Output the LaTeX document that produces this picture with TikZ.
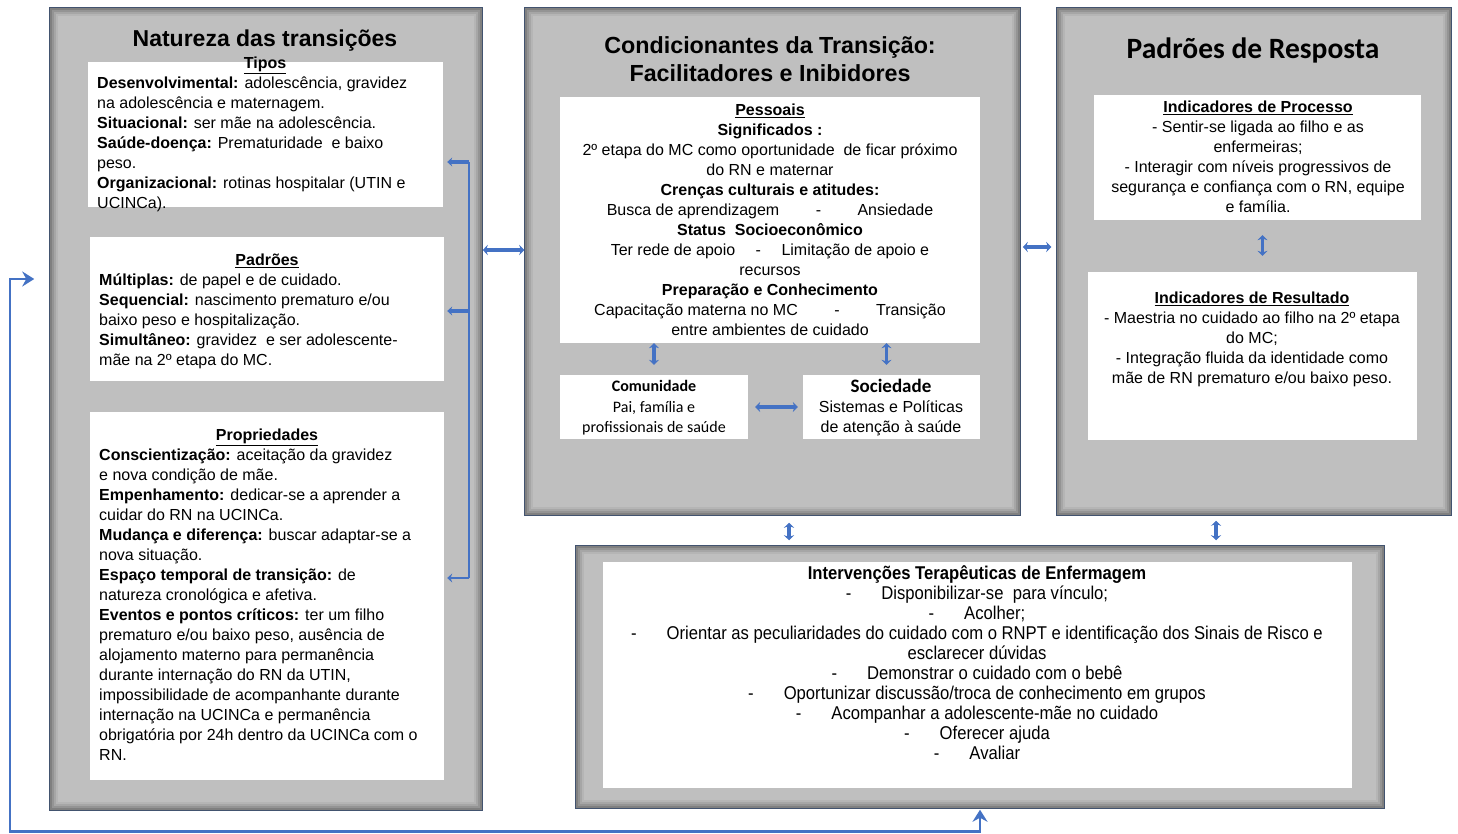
\documentclass[tikz,border=0pt]{standalone}
\usepackage{fontspec}
\setmainfont{Liberation Sans}
\newfontfamily\calib{Carlito}
\newfontfamily\narrowf[FakeStretch=0.9]{Liberation Sans}
\usetikzlibrary{arrows.meta,calc}
\definecolor{boxgray}{HTML}{BFBFBF}
\definecolor{edge}{HTML}{42536F}
\definecolor{ablue}{HTML}{4472C4}
\newcommand\innershadow[1]{%
  \draw[line width=2pt, draw=black!50] ([shift={(1.8,1.8)}]#1.north west) rectangle ([shift={(-1.8,-1.8)}]#1.south east);
  \draw[line width=2pt, draw=black!42] ([shift={(3.8,3.8)}]#1.north west) rectangle ([shift={(-3.8,-3.8)}]#1.south east);
  \draw[line width=2pt, draw=black!35] ([shift={(5.8,5.8)}]#1.north west) rectangle ([shift={(-5.8,-5.8)}]#1.south east);
  \draw[line width=2pt, draw=black!29] ([shift={(7.8,7.8)}]#1.north west) rectangle ([shift={(-7.8,-7.8)}]#1.south east);
}
\begin{document}
\begin{tikzpicture}[x=1pt,y=-1pt,
  outer/.style={draw=edge, line width=1.5pt, fill=boxgray, rectangle, inner sep=0pt},
  wbox/.style={fill=white, rectangle, inner sep=0pt},
  body/.style={font=\fontsize{16}{20}\selectfont, inner sep=0pt},
  head/.style={font=\fontsize{16}{20}\selectfont\bfseries, inner sep=0pt, anchor=base},
  dbl/.style={draw=ablue, line width=3.5pt, {Stealth[length=5pt,width=10pt]}-{Stealth[length=5pt,width=10pt]}},
  tick/.style={draw=ablue, line width=3.5pt, -{Stealth[length=5pt,width=9pt]}},
  thinblue/.style={draw=ablue, line width=1.3pt},
  fb/.style={draw=ablue, line width=2.5pt, {Stealth[length=12pt,width=15pt,inset=4pt]}-{Stealth[length=12pt,width=15pt,inset=4pt]}}
]
\useasboundingbox (0,0) rectangle (1458,834);
\fill[white] (0,0) rectangle (1458,834);

% ---------- outer boxes ----------
\node[outer, minimum width=432pt, minimum height=802pt] (L) at (266,409) {};
\innershadow{L}
\node[outer, minimum width=495pt, minimum height=507pt] (C) at (772.5,261.5) {};
\innershadow{C}
\node[outer, minimum width=394pt, minimum height=507pt] (R) at (1254,261.5) {};
\innershadow{R}
\node[outer, minimum width=808pt, minimum height=262pt] (B) at (980,677) {};
\innershadow{B}

% ---------- white boxes ----------
\node[wbox, minimum width=355pt, minimum height=145pt] (Ltip) at (265.5,134.5) {};
\node[wbox, minimum width=354pt, minimum height=144pt] (Lpad) at (267,309) {};
\node[wbox, minimum width=354pt, minimum height=368pt] (Lprop) at (267,596) {};
\node[wbox, minimum width=420pt, minimum height=246pt] (Cpes) at (770,220) {};
\node[wbox, minimum width=188pt, minimum height=64pt] (Ccom) at (654,407) {};
\node[wbox, minimum width=177pt, minimum height=64pt] (Csoc) at (891.5,407) {};
\node[wbox, minimum width=327pt, minimum height=125pt] (Rproc) at (1257.5,157.5) {};
\node[wbox, minimum width=329pt, minimum height=168pt] (Rres) at (1252.5,356) {};
\node[wbox, minimum width=749pt, minimum height=226pt] (Bin) at (977.5,675) {};

% ---------- titles ----------
\node[font=\fontsize{23}{28}\selectfont\bfseries, inner sep=0pt, anchor=base] (Lt) at (265,46.2) {Natureza das transições};
\node[font=\fontsize{23.3}{28}\selectfont\bfseries, inner sep=0pt, align=center, anchor=north] (Ct) at (770,33.6) {\strut Condicionantes da Transição:\\ Facilitadores e Inibidores};
\node[font=\calib\fontsize{29.5}{34}\selectfont\bfseries, inner sep=0pt, anchor=base] (Rt) at (1253,58.5) {Padrões de Resposta};

% ---------- left column texts ----------
\node[head] (hTip) at (265,68.5) {\underline{Tipos}};
\node[body, align=left, anchor=north west] (tTip) at (97,74.5) {\strut\textbf{Desenvolvimental:} adolescência, gravidez\\
na adolescência e maternagem.\\
\textbf{Situacional:} ser mãe na adolescência.\\
\textbf{Saúde-doença:} Prematuridade \ e baixo\\
peso.\\
\textbf{Organizacional:} rotinas hospitalar (UTIN e\\
UCINCa).};

\node[head] (hPad) at (267,265.5) {\underline{Padrões}};
\node[body, align=left, anchor=north west] (tPad) at (99,271.5) {\strut\textbf{Múltiplas:} de papel e de cuidado.\\
\textbf{Sequencial:} nascimento prematuro e/ou\\
baixo peso e hospitalização.\\
\textbf{Simultâneo:} gravidez \ e ser adolescente-\\
mãe na 2º etapa do MC.};

\node[head] (hProp) at (267,440.5) {\underline{Propriedades}};
\node[body, align=left, anchor=north west] (tProp) at (99,446.5) {\strut\textbf{Conscientização:} aceitação da gravidez\\
e nova condição de mãe.\\
\textbf{Empenhamento:} dedicar-se a aprender a\\
cuidar do RN na UCINCa.\\
\textbf{Mudança e diferença:} buscar adaptar-se a\\
nova situação.\\
\textbf{Espaço temporal de transição:} de\\
natureza cronológica e afetiva.\\
\textbf{Eventos e pontos críticos:} ter um filho\\
prematuro e/ou baixo peso, ausência de\\
alojamento materno para permanência\\
durante internação do RN da UTIN,\\
impossibilidade de acompanhante durante\\
internação na UCINCa e permanência\\
obrigatória por 24h dentro da UCINCa com o\\
RN.};

% ---------- center texts ----------
\node[body, align=center, anchor=north] (tPes) at (770,101.5) {\strut\textbf{\underline{Pessoais}}\\
\textbf{Significados :}\\
2º etapa do MC como oportunidade \ de ficar próximo\\
do RN e maternar\\
\textbf{Crenças culturais e atitudes:}\\
Busca de aprendizagem \quad\quad - \quad\quad Ansiedade\\
\textbf{Status \ Socioeconômico}\\
Ter rede de apoio \quad - \quad Limitação de apoio e\\
recursos\\
\textbf{Preparação e Conhecimento}\\
Capacitação materna no MC \quad\quad - \quad\quad Transição\\
entre ambientes de cuidado};

\node[font=\calib\fontsize{16}{20.5}\selectfont, inner sep=0pt, align=center, anchor=north] (tCom) at (654,377) {\strut\textbf{Comunidade}\\ Pai, família e\\ profissionais de saúde};
\node[body, align=center, anchor=north] (tSoc) at (891,378) {\strut{\calib\bfseries\fontsize{19}{20}\selectfont Sociedade}\\ Sistemas e Políticas\\ de atenção à saúde};

% ---------- right texts ----------
\node[body, align=center, anchor=north] (tProc) at (1258,98.5) {\strut\textbf{\underline{Indicadores de Processo}}\\
- Sentir-se ligada ao filho e as\\
enfermeiras;\\
- Interagir com níveis progressivos de\\
segurança e confiança com o RN, equipe\\
e família.};
\node[body, align=center, anchor=north] (tRes) at (1252,289.5) {\strut\textbf{\underline{Indicadores de Resultado}}\\
- Maestria no cuidado ao filho na 2º etapa\\
do MC;\\
- Integração fluida da identidade como\\
mãe de RN prematuro e/ou baixo peso.};

% ---------- bottom texts ----------
\node[font=\narrowf\fontsize{18.5}{20}\selectfont, inner sep=0pt, align=center, anchor=north] (tInt) at (977,565.4) {\strut\textbf{Intervenções Terapêuticas de Enfermagem}\\
-\hspace{30pt}Disponibilizar-se \ para vínculo;\\
-\hspace{30pt}Acolher;\\
-\hspace{30pt}Orientar as peculiaridades do cuidado com o RNPT e identificação dos Sinais de Risco e\\
esclarecer dúvidas\\
-\hspace{30pt}Demonstrar o cuidado com o bebê\\
-\hspace{30pt}Oportunizar discussão/troca de conhecimento em grupos\\
-\hspace{30pt}Acompanhar a adolescente-mãe no cuidado\\
-\hspace{30pt}Oferecer ajuda\\
-\hspace{30pt}Avaliar};

% ---------- connectors ----------
\draw[dbl] (L.east |- 0,250) -- (C.west |- 0,250);
\draw[dbl, shorten >=5pt, shorten <=2pt] (C.east |- 0,247) -- (R.west |- 0,247);
\draw[dbl] (Ccom.north |- Cpes.south) -- ($(Ccom.north)+(0,-10)$);
\coordinate (sq) at ($(Csoc.north)+(-5,0)$);
\draw[dbl] (sq |- Cpes.south) -- ($(sq)+(0,-10)$);
\draw[dbl, shorten <=7pt, shorten >=5pt] (Ccom) -- (Csoc);
\coordinate (pr) at ($(Rproc.south)+(5,0)$);
\draw[dbl, shorten <=15pt, shorten >=16pt] (pr) -- (pr |- Rres.north);
\draw[dbl, shorten <=7pt, shorten >=5pt] (C.south -| 789,0) -- (B.north -| 789,0);
\draw[dbl, shorten <=5pt, shorten >=5pt] (R.south -| 1216,0) -- (B.north -| 1216,0);

% bracket on the left column
\coordinate (br1) at (469,162);
\coordinate (br2) at (469,311);
\coordinate (br3) at (469,578);
\draw[thinblue] (br1) -- (br3);
\draw[tick, shorten >=4pt] (br1) -- (Ltip.east |- br1);
\draw[tick, shorten >=3pt] (br2) -- (Lpad.east |- br2);
\draw[tick, line width=2.2pt, shorten >=3pt] (br3) -- (Lprop.east |- br3);

% feedback loop
\coordinate (fbL) at (10,279);
\coordinate (fbB) at (10,831.5);
\draw[fb, shorten <=15pt, shorten >=1pt] (L.west |- fbL) -- (fbL) -- (fbB) -- (B.south |- fbB) -- (B.south);
\end{tikzpicture}
\end{document}
